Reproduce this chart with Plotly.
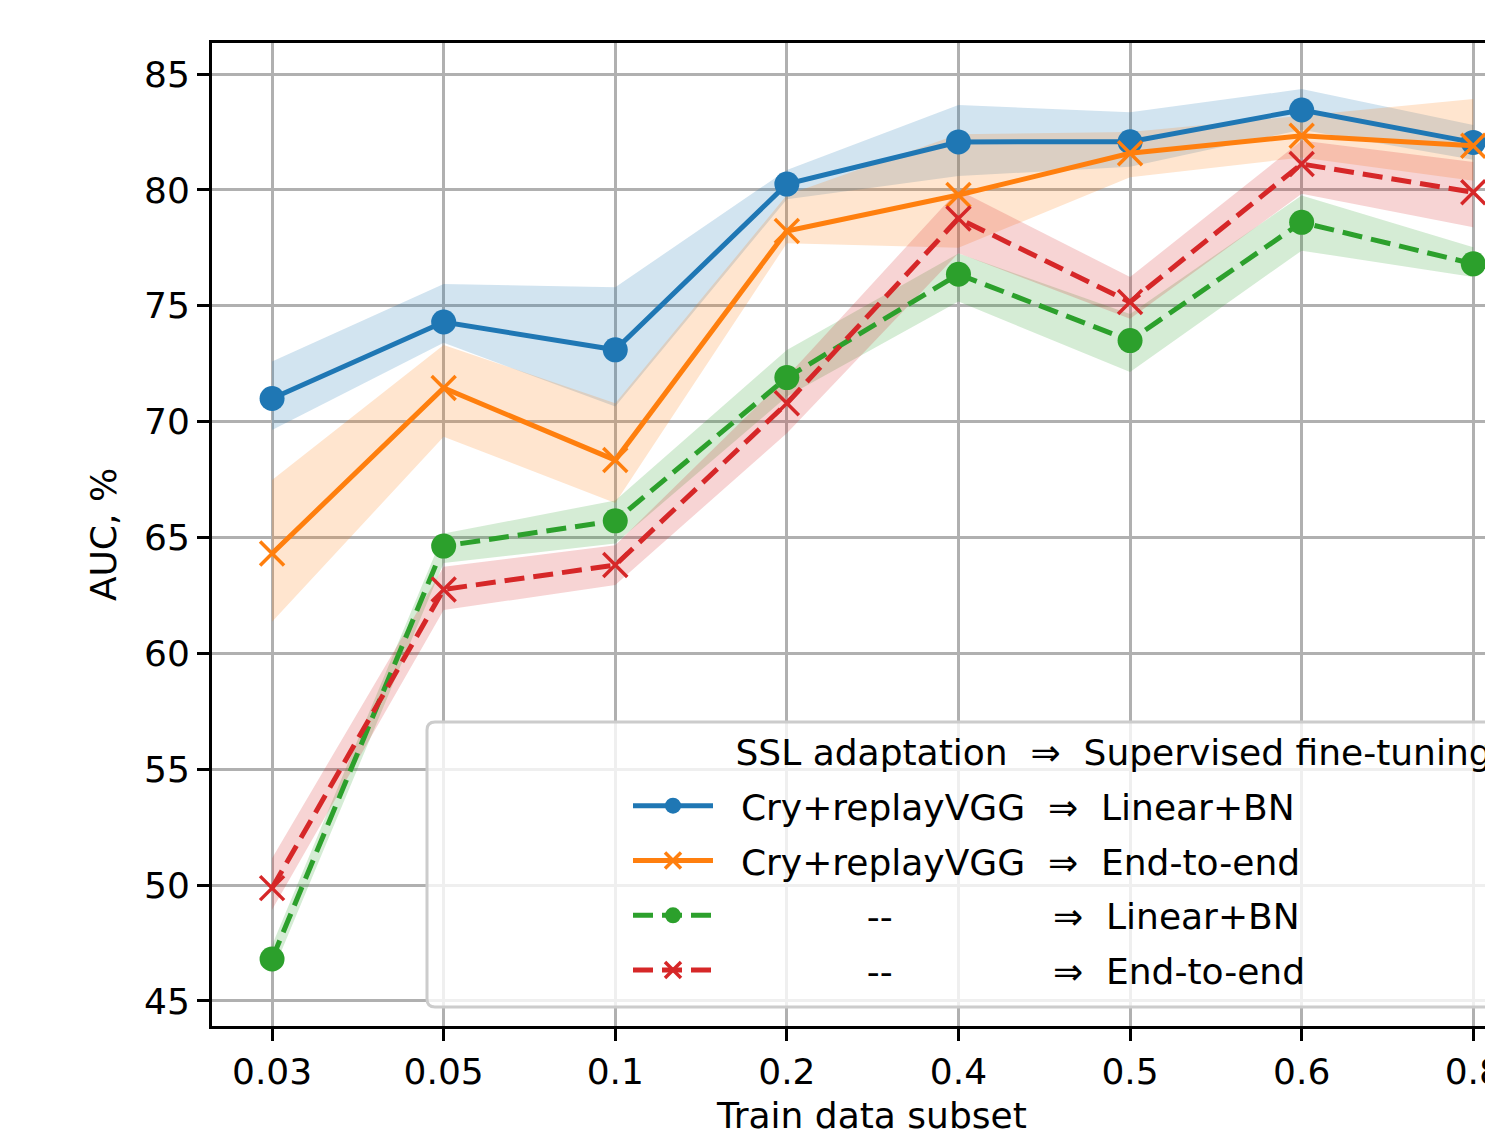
import plotly.graph_objects as go

# ---------------- data ----------------
categories = ["0.03", "0.05", "0.1", "0.2", "0.4", "0.5", "0.6", "0.8"]

blue_mean = [71.0, 74.3, 73.1, 80.25, 82.07, 82.08, 83.45, 82.05]
blue_low = [69.64, 73.4, 70.65, 79.6, 80.6, 81.0, 82.6, 81.3]
blue_high = [72.6, 75.94, 75.8, 80.86, 83.66, 83.35, 84.35, 82.8]

orange_mean = [64.31, 71.45, 68.34, 78.23, 79.78, 81.58, 82.34, 81.91]
orange_low = [61.36, 69.35, 66.49, 77.7, 77.5, 80.55, 81.4, 80.4]
orange_high = [67.48, 73.31, 70.79, 79.78, 82.4, 82.5, 83.2, 83.92]

green_mean = [46.81, 64.63, 65.72, 71.9, 76.36, 73.5, 78.6, 76.81]
green_low = [46.2, 63.9, 64.74, 71.08, 75.18, 72.14, 77.38, 76.24]
green_high = [47.4, 65.17, 66.6, 73.09, 77.26, 74.65, 79.76, 77.53]

red_mean = [49.87, 62.76, 63.81, 70.79, 78.77, 75.16, 81.12, 79.9]
red_low = [48.94, 61.87, 62.95, 69.5, 77.27, 74.44, 79.83, 78.39]
red_high = [51.16, 63.74, 64.67, 71.94, 80.0, 76.24, 82.13, 81.2]

NB = "\u00a0"
ARROW = NB * 2 + "⇒" + NB * 2
names = [
    NB * 2 + "Cry+replayVGG" + ARROW + "Linear+BN",
    NB * 2 + "Cry+replayVGG" + ARROW + "End-to-end",
    NB * 13 + "--" + NB * 14 + "⇒" + NB * 2 + "Linear+BN",
    NB * 13 + "--" + NB * 14 + "⇒" + NB * 2 + "End-to-end",
]
legend_title = NB + "\u2006" + "SSL adaptation" + ARROW + "Supervised fine-tuning"
x_title = "Train data subset"
y_title = "AUC, %"
yticks = [45, 50, 55, 60, 65, 70, 75, 80, 85]

# ---------------- figure ----------------
FONT = "DejaVu Sans"
OFF = 0                      # body margin removed via post_script
W, H = 1485 - OFF, 1133 - OFF
L, T = 212 - OFF, 43 - OFF
B = H - (1026 - OFF)
PW, PH = W - L, H - T - B
x_idx = list(range(len(categories)))

series = [
    (blue_mean, blue_low, blue_high, "#1f77b4", "solid", "circle", names[0]),
    (orange_mean, orange_low, orange_high, "#ff7f0e", "solid", "x-thin", names[1]),
    (green_mean, green_low, green_high, "#2ca02c", "20px,9px", "circle", names[2]),
    (red_mean, red_low, red_high, "#d62728", "20px,9px", "x-thin", names[3]),
]

def rgba(hexc, a):
    h = hexc.lstrip("#")
    return f"rgba({int(h[0:2],16)},{int(h[2:4],16)},{int(h[4:6],16)},{a})"

fig = go.Figure()

# bands first
for mean, lo, hi, col, dash, sym, name in series:
    fig.add_trace(go.Scatter(x=x_idx, y=lo, mode="lines", line=dict(width=0),
                             showlegend=False, hoverinfo="skip"))
    fig.add_trace(go.Scatter(x=x_idx, y=hi, mode="lines", line=dict(width=0),
                             fill="tonexty", fillcolor=rgba(col, 0.2),
                             showlegend=False, hoverinfo="skip"))

# header legend entry
fig.add_trace(go.Scatter(x=[None], y=[None], mode="lines",
                         line=dict(width=0, color="rgba(0,0,0,0)"),
                         name=legend_title, showlegend=True, legendgroup="g0"))

for i, (mean, lo, hi, col, dash, sym, name) in enumerate(series):
    if sym == "circle":
        marker = dict(symbol="circle", size=25, color=col, line=dict(width=0))
    else:
        marker = dict(symbol="x-thin", size=24, color=col, line=dict(width=3.5, color=col))
    fig.add_trace(go.Scatter(x=x_idx, y=mean, mode="lines+markers", name=name,
                             legendgroup=f"g{i+1}",
                             line=dict(color=col, width=5, dash=dash),
                             marker=marker))

# helpers: page pixel -> paper fraction
def px_x(p):
    return (p - OFF - L) / PW

def px_y(p):
    return (H - B - (p - OFF)) / PH

# legend frame (matplotlib style)
x0, x1, y0, y1 = 427, 1530, 722, 1007
r = 8
path = (f"M {px_x(x0+r)} {px_y(y0)} L {px_x(x1)} {px_y(y0)} L {px_x(x1)} {px_y(y1)} "
        f"L {px_x(x0+r)} {px_y(y1)} Q {px_x(x0)} {px_y(y1)} {px_x(x0)} {px_y(y1-r)} "
        f"L {px_x(x0)} {px_y(y0+r)} Q {px_x(x0)} {px_y(y0)} {px_x(x0+r)} {px_y(y0)} Z")
fig.add_shape(type="path", path=path, xref="paper", yref="paper",
              fillcolor="rgba(255,255,255,0.8)", line=dict(color="#cccccc", width=3),
              layer="above")

# x-axis title, centred on the full (uncropped) axes width
fig.add_annotation(text=x_title, xref="paper", yref="paper",
                   x=px_x(871), y=px_y(1115), xanchor="center", yanchor="middle",
                   showarrow=False, font=dict(family=FONT, size=36, color="black"))

fig.update_layout(
    width=W, height=H, autosize=False,
    margin=dict(l=L, r=0, t=T, b=B, pad=0, autoexpand=False),
    paper_bgcolor="white", plot_bgcolor="white",
    font=dict(family=FONT, size=36, color="black"),
    showlegend=True,
    legend=dict(x=px_x(628), y=px_y(721), xanchor="left", yanchor="top",
                bgcolor="rgba(0,0,0,0)", borderwidth=0,
                font=dict(family=FONT, size=36, color="black"),
                itemwidth=80, traceorder="grouped", tracegroupgap=5),
)

fig.update_xaxes(
    range=[-0.35, -0.35 + PW / 171.6],
    tickmode="array", tickvals=x_idx, ticktext=categories,
    showgrid=True, gridcolor="#b0b0b0", gridwidth=3,
    showline=True, linecolor="black", linewidth=3, mirror=True,
    ticks="outside", ticklen=12, tickwidth=3, tickcolor="black",
    tickfont=dict(family=FONT, size=36, color="black"),
    ticklabeloverflow="allow",
    automargin=False, zeroline=False,
)
fig.update_yaxes(
    range=[43.92, 86.34],
    tickmode="array", tickvals=yticks, ticktext=[str(v) for v in yticks],
    showgrid=True, gridcolor="#b0b0b0", gridwidth=3,
    showline=True, linecolor="black", linewidth=3, mirror=False,
    ticks="outside", ticklen=12, tickwidth=3, tickcolor="black",
    tickfont=dict(family=FONT, size=36, color="black"),
    title=dict(text=y_title, font=dict(family=FONT, size=36, color="black"), standoff=17),
    automargin=False, zeroline=False,
)

fig.write_html(
    "out.html",
    config={"displayModeBar": False},
    post_script="document.body.style.margin='0';document.body.style.overflow='hidden';",
)
